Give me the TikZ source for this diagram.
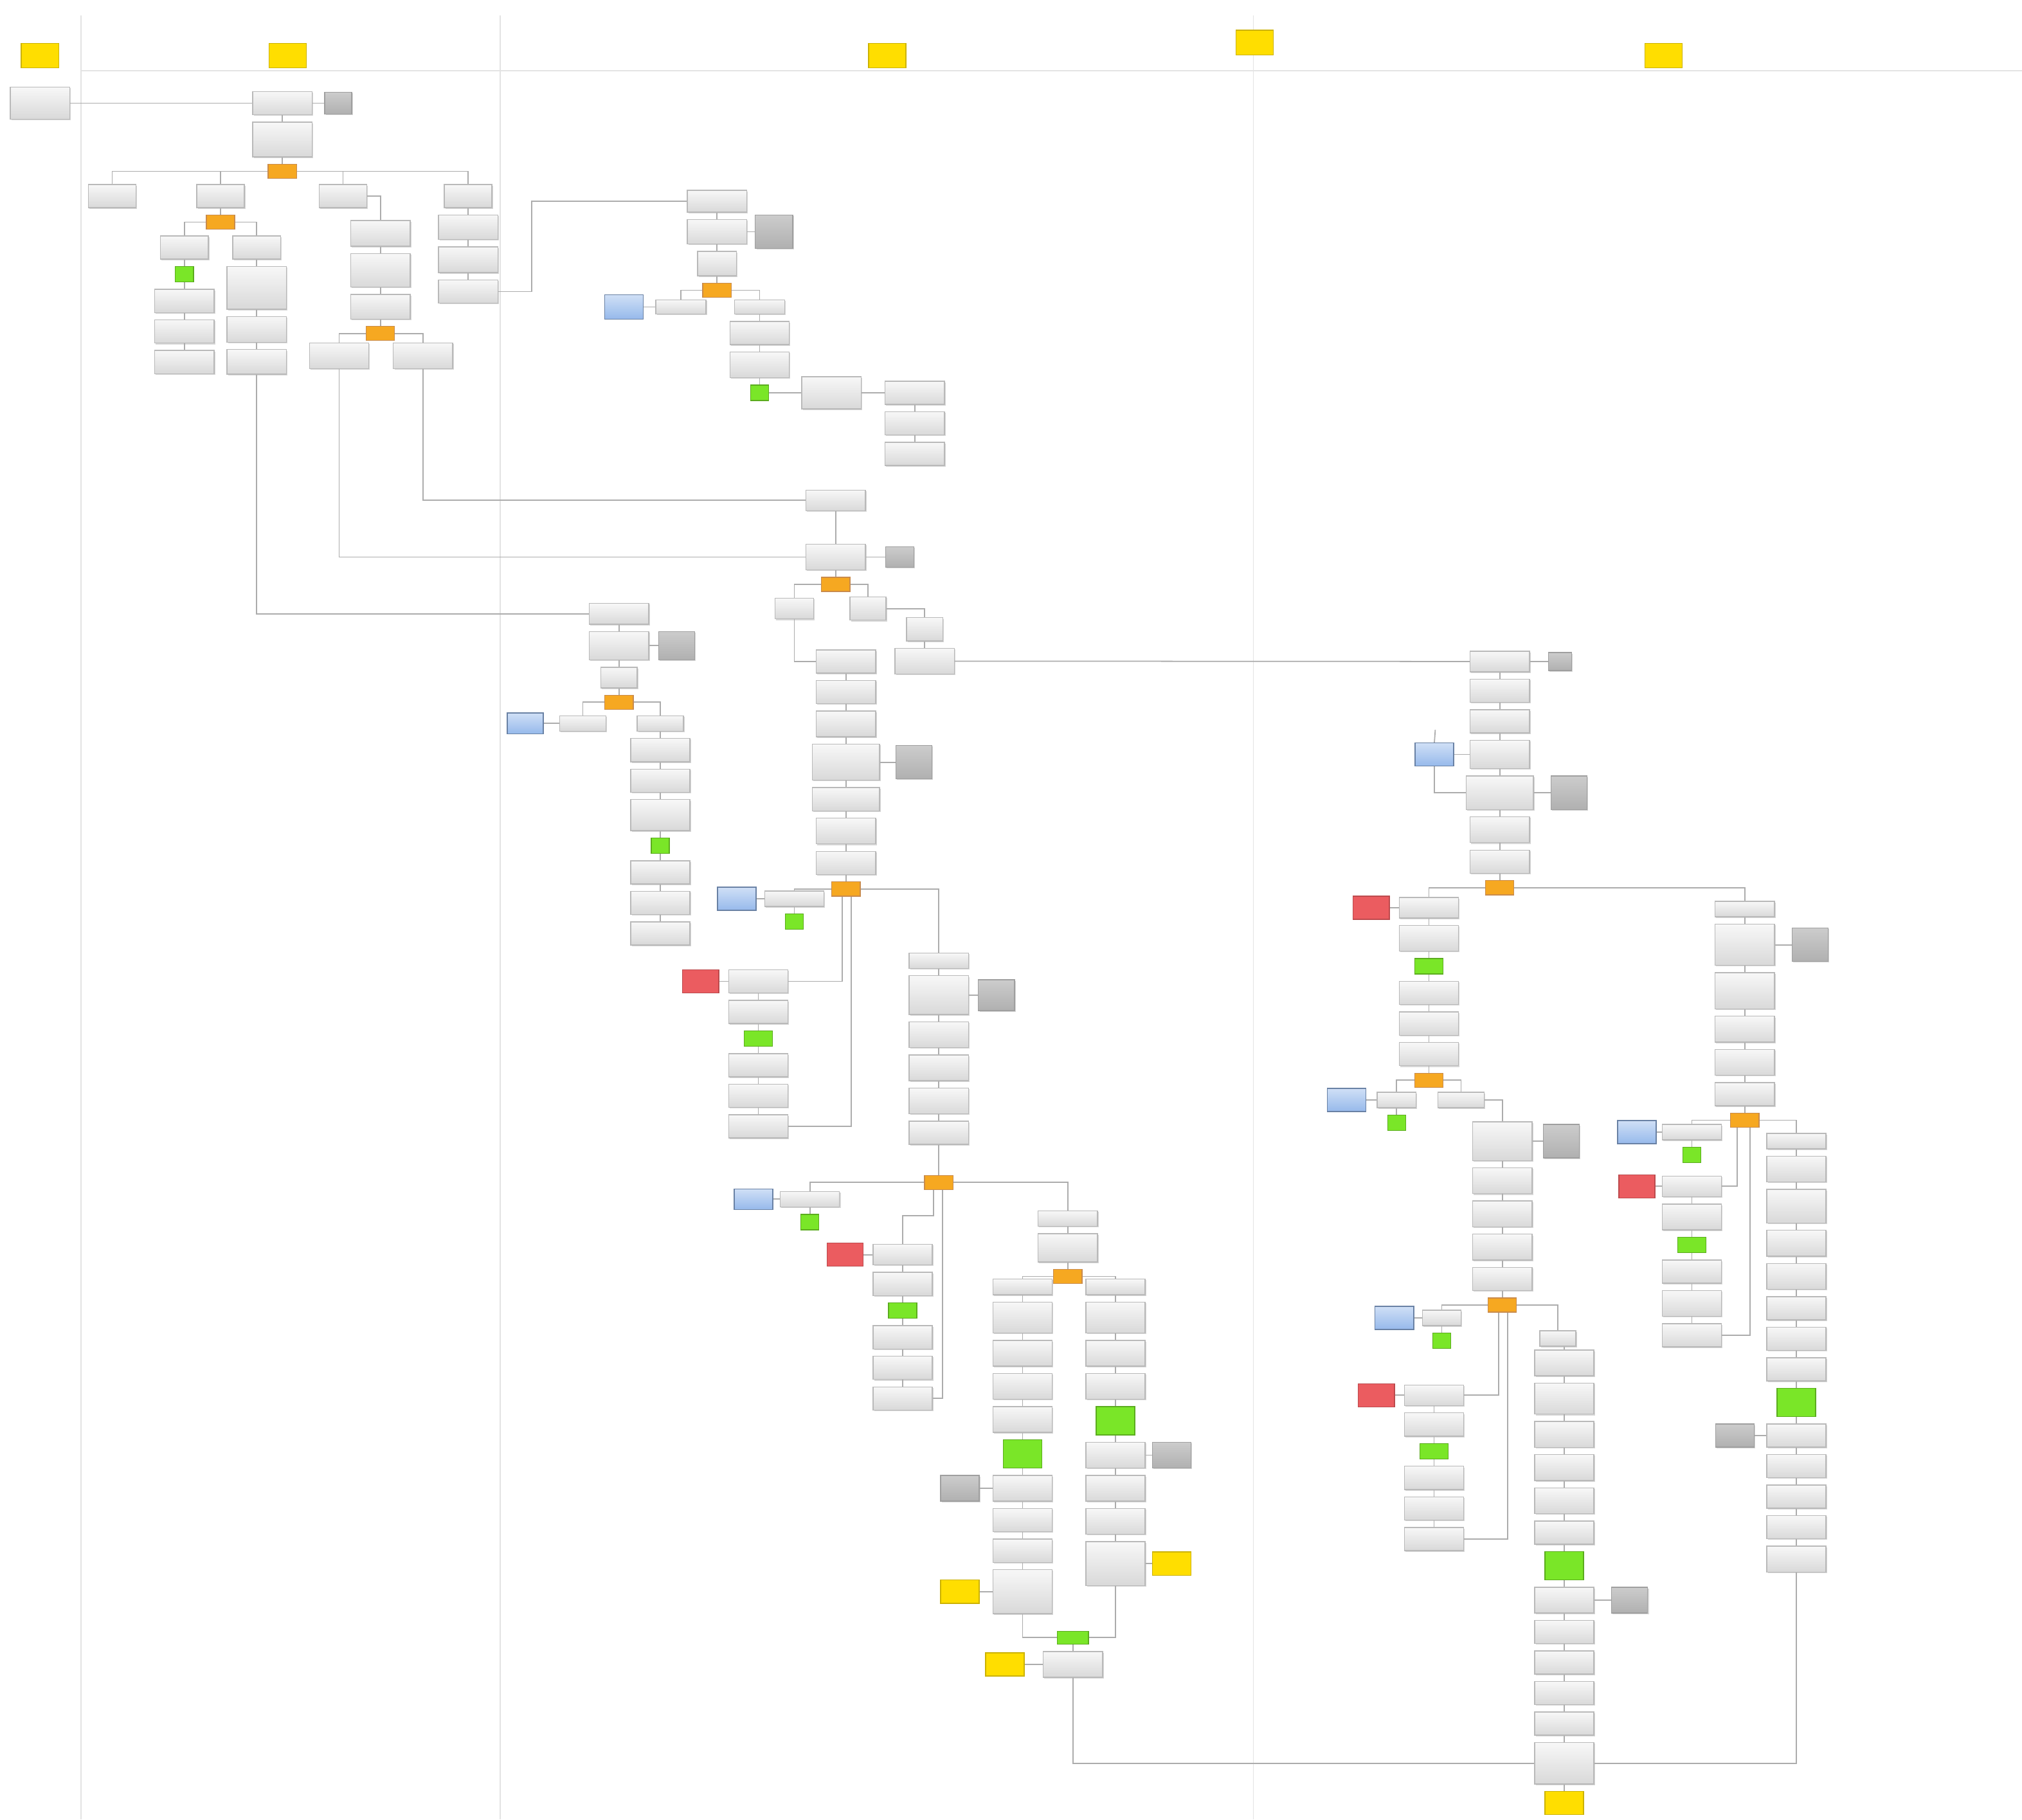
\documentclass[tikz,border=0pt]{standalone}
\usepackage{tikz}
\usetikzlibrary{positioning, shapes.misc, shadows}

\definecolor{gateor}{RGB}{246,168,33}
\definecolor{okgreen}{RGB}{122,230,40}
\definecolor{stopred}{RGB}{235,92,96}
\definecolor{extblue}{RGB}{150,185,235}
\definecolor{tagyel}{RGB}{255,222,0}

\begin{document}
\begin{tikzpicture}[
    x=0.02cm, y=-0.02cm,
    node distance=0.1cm,
    ht/.style={minimum height=#1*0.02cm},
    wd/.style={minimum width=#1*0.02cm},
    shade/.style={drop shadow={shadow xshift=0.5pt, shadow yshift=-0.5pt,
                  fill=gray!70, opacity=0.45}},
    box/.style={shade, draw=gray!55, top color=gray!6, bottom color=gray!30,
                minimum width=0.92cm, minimum height=0.36cm, inner sep=0pt},
    opt/.style={box, minimum width=0.74cm},
    lbl/.style={box, minimum width=0.72cm, minimum height=0.24cm},
    memo/.style={shade, draw=gray!75, top color=gray!40, bottom color=gray!62,
                 minimum width=0.56cm, minimum height=0.5cm, inner sep=0pt},
    gate/.style={chamfered rectangle, chamfered rectangle xsep=2.2pt,
                 draw=orange!70!black!70, fill=gateor,
                 minimum width=0.44cm, minimum height=0.22cm, inner sep=0pt},
    ok/.style={draw=okgreen!75!black, fill=okgreen, minimum width=0.28cm,
               minimum height=0.24cm, inner sep=0pt},
    stop/.style={draw=stopred!80!black, fill=stopred, minimum width=0.56cm,
                 minimum height=0.36cm, inner sep=0pt},
    ext/.style={draw=extblue!70!black, top color=extblue!45,
                bottom color=extblue, minimum width=0.6cm,
                minimum height=0.36cm, inner sep=0pt},
    tag/.style={draw=tagyel!80!black, fill=tagyel, minimum width=0.58cm,
                minimum height=0.38cm, inner sep=0pt},
    lane/.style={draw=gray!22, line width=0.5pt},
    link/.style={draw=gray!65, line width=0.5pt}
  ]
  \useasboundingbox (0,0) rectangle (1568,1411);

  % swimlanes
  \draw[lane] (63,12) -- (63,1411);
  \draw[lane] (388,12) -- (388,1411);
  \draw[lane] (972,12) -- (972,1411);
  \draw[lane] (63,55) -- (1568,55);

  \node[tag] (hd1) at (31,43) {};
  \node[tag] (hd2) at (223,43) {};
  \node[tag] (hd3) at (688,43) {};
  \node[tag] (hd4) at (973,33) {};
  \node[tag] (hd5) at (1290,43) {};

  % lane 1
  \node[box, ht=25] (start) at (31,80) {};

  % lane 2
  \node[box] (a1) at (219,80) {};
  \node[memo, wd=21, ht=17, right=0.18cm of a1] (a1n) {};
  \node[box, ht=27, below=of a1] (a2) {};
  \node[gate, below=of a2] (g1) {};
  \node[opt] (b1) at (87,152) {};
  \node[opt] (b2) at (171,152) {};
  \node[opt] (b3) at (266,152) {};
  \node[opt] (b4) at (363,152) {};
  \node[gate, below=of b2] (g2) {};
  \node[opt] (c1) at (143,192) {};
  \node[opt] (c2) at (199,192) {};
  \node[ok, below=of c1] (c1k) {};
  \node[box, below=of c1k] (c1a) {};
  \node[box, below=of c1a] (c1b) {};
  \node[box, below=of c1b] (c1c) {};
  \node[box, ht=33, below=of c2] (c2a) {};
  \node[box, ht=20, below=of c2a] (c2b) {};
  \node[box, ht=19, below=of c2b] (c2c) {};
  \node[box, ht=20] (d1) at (295,181) {};
  \node[box, ht=26, below=of d1] (d2) {};
  \node[box, ht=19, below=of d2] (d3) {};
  \node[gate, below=of d3] (g3) {};
  \node[box, ht=20] (e1) at (263,276) {};
  \node[box, ht=20] (e2) at (328,276) {};
  \node[box, ht=19, below=of b4] (b4a) {};
  \node[box, ht=20, below=of b4a] (b4b) {};
  \node[box, below=of b4b] (b4c) {};

  % lane 3, top
  \node[box, ht=17] (f1) at (556,156) {};
  \node[box, ht=19, below=of f1] (f2) {};
  \node[memo, wd=29, ht=26, right=0.12cm of f2] (f2n) {};
  \node[box, wd=30, ht=19, below=of f2] (f3) {};
  \node[gate, below=of f3] (g4) {};
  \node[lbl, wd=39, ht=11] (gl) at (528,238) {};
  \node[ext, wd=30, ht=19, left=0.18cm of gl] (glx) {};
  \node[lbl, wd=39, ht=11] (gr) at (589,238) {};
  \node[box, below=of gr] (gr1) {};
  \node[box, ht=20, below=of gr1] (gr2) {};
  \node[ok, below=of gr2] (grk) {};
  \node[box, ht=25, right=0.5cm of grk] (h1) {};
  \node[box, right=0.36cm of h1] (h2) {};
  \node[box, below=of h2] (h3) {};
  \node[box, below=of h3] (h4) {};

  % lane 3, middle
  \node[box, ht=16] (i1) at (648,388) {};
  \node[box, ht=20] (i2) at (648,432) {};
  \node[memo, wd=22, ht=16, right=0.3cm of i2] (i2n) {};
  \node[gate, below=of i2] (g5) {};
  \node[box, wd=30, ht=16] (j1) at (616,472) {};
  \node[box, wd=28] (j2) at (673,472) {};
  \node[box, wd=28] (j3) at (717,488) {};
  \node[box, ht=20, below=of j3] (j4) {};
  \node[box] (k1) at (656,513) {};
  \node[box, below=of k1] (k2) {};
  \node[box, ht=20, below=of k2] (k3) {};
  \node[box, wd=52, ht=28, below=of k3] (k4) {};
  \node[memo, wd=28, ht=26, right=0.24cm of k4] (k4n) {};
  \node[box, wd=52, below=of k4] (k5) {};
  \node[box, ht=20, below=of k5] (k6) {};
  \node[box, below=of k6] (k7) {};
  \node[gate, below=of k7] (g6) {};

  \node[box, ht=16] (n1) at (480,476) {};
  \node[box, ht=22, below=of n1] (n2) {};
  \node[memo, wd=28, ht=22, right=0.14cm of n2] (n2n) {};
  \node[box, wd=28, ht=16, below=of n2] (n3) {};
  \node[gate, below=of n3] (g7) {};
  \node[lbl] (nl) at (452,561) {};
  \node[ext, wd=28, ht=16, left=0.24cm of nl] (nlx) {};
  \node[lbl] (nr) at (512,561) {};
  \node[box, below=of nr] (nr1) {};
  \node[box, below=of nr1] (nr2) {};
  \node[box, ht=24, below=of nr2] (nr3) {};
  \node[ok, below=of nr3] (nrk) {};
  \node[box, below=of nrk] (nr4) {};
  \node[box, below=of nr4] (nr5) {};
  \node[box, below=of nr5] (nr6) {};

  \node[lbl, wd=46] (o1) at (616,697) {};
  \node[ext, wd=30, left=0.12cm of o1] (o1x) {};
  \node[ok, below=of o1] (o1k) {};
  \node[box] (p1) at (588,761) {};
  \node[stop, left=0.14cm of p1] (p1x) {};
  \node[box, below=of p1] (p2) {};
  \node[ok, wd=22, below=of p2] (p2k) {};
  \node[box, below=of p2k] (p3) {};
  \node[box, below=of p3] (p4) {};
  \node[box, below=of p4] (p5) {};

  \node[box, ht=12] (q1) at (728,745) {};
  \node[box, ht=30, below=of q1] (q2) {};
  \node[memo, wd=28, ht=24, right=0.14cm of q2] (q2n) {};
  \node[box, ht=20, below=of q2] (q3) {};
  \node[box, ht=20, below=of q3] (q4) {};
  \node[box, ht=20, below=of q4] (q5) {};
  \node[box, below=of q5] (q6) {};
  \node[gate] (g8) at (728,917) {};

  % lane 3, bottom
  \node[lbl, wd=46] (r1) at (628,930) {};
  \node[ext, wd=30, ht=16, left=0.1cm of r1] (r1x) {};
  \node[ok, below=of r1] (r1k) {};
  \node[box, ht=16] (s1) at (700,973) {};
  \node[stop, left=0.14cm of s1] (s1x) {};
  \node[box, below=of s1] (s2) {};
  \node[ok, wd=22, below=of s2] (s2k) {};
  \node[box, below=of s2k] (s3) {};
  \node[box, below=of s3] (s4) {};
  \node[box, below=of s4] (s5) {};

  \node[box, ht=12] (t1) at (828,945) {};
  \node[box, ht=22, below=of t1] (t2) {};
  \node[gate, below=of t2] (g9) {};

  \node[box, ht=12] (u1) at (793,998) {};
  \node[box, ht=24, below=of u1] (u2) {};
  \node[box, ht=20, below=of u2] (u3) {};
  \node[box, ht=20, below=of u3] (u4) {};
  \node[box, ht=20, below=of u4] (u5) {};
  \node[ok, wd=30, ht=22, below=of u5] (u6) {};
  \node[box, ht=20, below=of u6] (u7) {};
  \node[memo, wd=30, ht=20, left=0.2cm of u7] (u7n) {};
  \node[box, below=of u7] (u8) {};
  \node[box, below=of u8] (u9) {};
  \node[box, ht=34, below=of u9] (u10) {};
  \node[tag, wd=30, ht=18, left=0.2cm of u10] (u10t) {};

  \node[box, ht=12] (v1) at (865,998) {};
  \node[box, ht=24, below=of v1] (v2) {};
  \node[box, ht=20, below=of v2] (v3) {};
  \node[box, ht=20, below=of v3] (v4) {};
  \node[ok, wd=30, ht=22, below=of v4] (v5) {};
  \node[box, ht=20, below=of v5] (v6) {};
  \node[memo, wd=30, ht=20, right=0.1cm of v6] (v6n) {};
  \node[box, ht=20, below=of v6] (v7) {};
  \node[box, ht=20, below=of v7] (v8) {};
  \node[box, ht=34, below=of v8] (v9) {};
  \node[tag, wd=30, ht=18, right=0.1cm of v9] (v9t) {};

  \node[ok, wd=24, ht=10] (mrg) at (832,1270) {};
  \node[box, ht=20, below=of mrg] (w1) {};
  \node[tag, wd=30, ht=18, left=0.28cm of w1] (w1t) {};

  % lane 4
  \node[box, ht=16] (l1) at (1163,513) {};
  \node[memo, wd=18, ht=14, right=0.28cm of l1] (l1n) {};
  \node[box, below=of l1] (l2) {};
  \node[box, below=of l2] (l3) {};
  \node[box, ht=22, below=of l3] (l4) {};
  \node[ext, wd=30, ht=18, left=0.24cm of l4] (l4x) {};
  \node[box, wd=52, ht=26, below=of l4] (l5) {};
  \node[memo, wd=28, ht=26, right=0.26cm of l5] (l5n) {};
  \node[box, ht=20, below=of l5] (l6) {};
  \node[box, below=of l6] (l7) {};
  \node[gate, below=of l7] (g10) {};
  \coordinate (l4up) at (1113,566);

  \node[box, ht=16] (m1) at (1108,704) {};
  \node[stop, left=0.14cm of m1] (m1x) {};
  \node[box, ht=20, below=of m1] (m2) {};
  \node[ok, wd=22, below=of m2] (m2k) {};
  \node[box, below=of m2k] (m3) {};
  \node[box, below=of m3] (m4) {};
  \node[box, below=of m4] (m5) {};
  \node[gate, below=of m5] (g11) {};
  \node[lbl, wd=30] (z1) at (1083,853) {};
  \node[ext, wd=30, ht=18, left=0.16cm of z1] (z1x) {};
  \node[ok, below=of z1] (z1k) {};
  \node[lbl] (z2) at (1133,853) {};

  \node[box, ht=30] (aa1) at (1165,885) {};
  \node[memo, wd=28, ht=26, right=0.16cm of aa1] (aa1n) {};
  \node[box, ht=20, below=of aa1] (aa2) {};
  \node[box, ht=20, below=of aa2] (aa3) {};
  \node[box, ht=20, below=of aa3] (aa4) {};
  \node[box, below=of aa4] (aa5) {};
  \node[gate, below=of aa5] (g12) {};
  \node[lbl, wd=30] (ab1) at (1118,1022) {};
  \node[ext, wd=30, ht=18, left=0.12cm of ab1] (ab1x) {};
  \node[ok, below=of ab1] (ab1k) {};
  \node[box, ht=16] (ac1) at (1112,1082) {};
  \node[stop, left=0.14cm of ac1] (ac1x) {};
  \node[box, below=of ac1] (ac2) {};
  \node[ok, wd=22, below=of ac2] (ac2k) {};
  \node[box, below=of ac2k] (ac3) {};
  \node[box, below=of ac3] (ac4) {};
  \node[box, below=of ac4] (ac5) {};

  \node[box, wd=28, ht=12] (ad1) at (1208,1038) {};
  \node[box, ht=20] (ad2) at (1213,1057) {};
  \node[box, ht=24, below=of ad2] (ad3) {};
  \node[box, ht=20, below=of ad3] (ad4) {};
  \node[box, ht=20, below=of ad4] (ad5) {};
  \node[box, ht=20, below=of ad5] (ad6) {};
  \node[box, below=of ad6] (ad7) {};
  \node[ok, wd=30, ht=22, below=of ad7] (ad8k) {};
  \node[box, ht=20, below=of ad8k] (ad9) {};
  \node[memo, wd=28, ht=20, right=0.26cm of ad9] (ad9n) {};
  \node[box, below=of ad9] (ad10) {};
  \node[box, below=of ad10] (ad11) {};
  \node[box, below=of ad11] (ad12) {};
  \node[box, below=of ad12] (ad13) {};
  \node[box, ht=32, below=of ad13] (fin) {};
  \node[tag, wd=30, ht=18, below=of fin] (fint) {};

  \node[box, ht=12] (y1) at (1353,705) {};
  \node[box, ht=32, below=of y1] (y2) {};
  \node[memo, wd=28, ht=26, right=0.26cm of y2] (y2n) {};
  \node[box, ht=28, below=of y2] (y3) {};
  \node[box, ht=20, below=of y3] (y4) {};
  \node[box, ht=20, below=of y4] (y5) {};
  \node[box, below=of y5] (y6) {};
  \node[gate, below=of y6] (g13) {};
  \node[lbl, wd=46] (z3) at (1312,878) {};
  \node[ext, wd=30, ht=18, left=0.08cm of z3] (z3x) {};
  \node[ok, below=of z3] (z3k) {};
  \node[box, ht=16] (ae1) at (1312,920) {};
  \node[stop, left=0.1cm of ae1] (ae1x) {};
  \node[box, ht=20, below=of ae1] (ae2) {};
  \node[ok, wd=22, below=of ae2] (ae2k) {};
  \node[box, below=of ae2k] (ae3) {};
  \node[box, ht=20, below=of ae3] (ae4) {};
  \node[box, below=of ae4] (ae5) {};

  \node[box, ht=12] (af1) at (1393,885) {};
  \node[box, ht=20, below=of af1] (af2) {};
  \node[box, ht=26, below=of af2] (af3) {};
  \node[box, ht=20, below=of af3] (af4) {};
  \node[box, ht=20, below=of af4] (af5) {};
  \node[box, below=of af5] (af6) {};
  \node[box, below=of af6] (af7) {};
  \node[box, below=of af7] (af8) {};
  \node[ok, wd=30, ht=22, below=of af8] (af9k) {};
  \node[box, below=of af9k] (af10) {};
  \node[memo, wd=30, ht=18, left=0.18cm of af10] (af10n) {};
  \node[box, below=of af10] (af11) {};
  \node[box, below=of af11] (af12) {};
  \node[box, below=of af12] (af13) {};
  \node[box, ht=20, below=of af13] (af14) {};

  % connectors, lanes 1-2
  \draw[link] (start) -- (a1);
  \draw[link] (a1) -- (a1n);
  \draw[link] (a1) -- (a2);
  \draw[link] (a2) -- (g1);
  \draw[link] (g1.west) -| (b1.north);
  \draw[link] (g1.west) -| (b2.north);
  \draw[link] (g1.east) -| (b3.north);
  \draw[link] (g1.east) -| (b4.north);
  \draw[link] (b2) -- (g2);
  \draw[link] (g2.west) -| (c1.north);
  \draw[link] (g2.east) -| (c2.north);
  \draw[link] (c1) -- (c1k) -- (c1a) -- (c1b) -- (c1c);
  \draw[link] (c2) -- (c2a) -- (c2b) -- (c2c);
  \draw[link] (c2c) |- (n1);
  \draw[link] (b3.east) -| (d1.north);
  \draw[link] (d1) -- (d2) -- (d3) -- (g3);
  \draw[link] (g3.west) -| (e1.north);
  \draw[link] (g3.east) -| (e2.north);
  \draw[link] (e1) |- (i2);
  \draw[link] (e2) |- (i1);
  \draw[link] (b4) -- (b4a) -- (b4b) -- (b4c);
  \draw[link] (b4c.east) -- ++(26,0) |- (f1.west);

  % connectors, lane 3
  \draw[link] (f1) -- (f2) -- (f3) -- (g4);
  \draw[link] (f2) -- (f2n);
  \draw[link] (g4.west) -| (gl.north);
  \draw[link] (g4.east) -| (gr.north);
  \draw[link] (glx) -- (gl);
  \draw[link] (gr) -- (gr1) -- (gr2) -- (grk);
  \draw[link] (grk) -- (h1) -- (h2);
  \draw[link] (h2) -- (h3) -- (h4);

  \draw[link] (i1) -- (i2) -- (g5);
  \draw[link] (i2) -- (i2n);
  \draw[link] (g5.west) -| (j1.north);
  \draw[link] (g5.east) -| (j2.north);
  \draw[link] (j1) |- (k1);
  \draw[link] (j2.east) -| (j3.north);
  \draw[link] (j3) -- (j4);
  \draw[link] (j4) -- (l1);
  \draw[link] (k1) -- (k2) -- (k3) -- (k4) -- (k5) -- (k6) -- (k7) -- (g6);
  \draw[link] (k4) -- (k4n);

  \draw[link] (n1) -- (n2) -- (n3) -- (g7);
  \draw[link] (n2) -- (n2n);
  \draw[link] (g7.west) -| (nl.north);
  \draw[link] (g7.east) -| (nr.north);
  \draw[link] (nlx) -- (nl);
  \draw[link] (nr) -- (nr1) -- (nr2) -- (nr3) -- (nrk) -- (nr4) -- (nr5) -- (nr6);

  \draw[link] (g6.west) -| (o1.north);
  \draw[link] (o1x) -- (o1);
  \draw[link] (o1) -- (o1k);
  \draw[link] ([xshift=-0.06cm]g6.south) |- (p1.east);
  \draw[link] (p1x) -- (p1);
  \draw[link] (p1) -- (p2) -- (p2k) -- (p3) -- (p4) -- (p5);
  \draw[link] (p5.east) -| ([xshift=0.08cm]g6.south);
  \draw[link] (g6.east) -| (q1.north);
  \draw[link] (q1) -- (q2) -- (q3) -- (q4) -- (q5) -- (q6) -- (g8);
  \draw[link] (q2) -- (q2n);

  \draw[link] (g8.west) -| (r1.north);
  \draw[link] (r1x) -- (r1);
  \draw[link] (r1) -- (r1k);
  \draw[link] ([xshift=-0.08cm]g8.south) -- ++(0,20) -| (s1.north);
  \draw[link] (s1x) -- (s1);
  \draw[link] (s1) -- (s2) -- (s2k) -- (s3) -- (s4) -- (s5);
  \draw[link] (s5.east) -| ([xshift=0.06cm]g8.south);
  \draw[link] (g8.east) -| (t1.north);
  \draw[link] (t1) -- (t2) -- (g9);
  \draw[link] (g9.west) -| (u1.north);
  \draw[link] (g9.east) -| (v1.north);
  \draw[link] (u1) -- (u2) -- (u3) -- (u4) -- (u5) -- (u6) -- (u7) -- (u8)
    -- (u9) -- (u10);
  \draw[link] (u7n) -- (u7);
  \draw[link] (u10t) -- (u10);
  \draw[link] (v1) -- (v2) -- (v3) -- (v4) -- (v5) -- (v6) -- (v7) -- (v8)
    -- (v9);
  \draw[link] (v6) -- (v6n);
  \draw[link] (v9) -- (v9t);
  \draw[link] (u10) |- (mrg);
  \draw[link] (v9) |- (mrg);
  \draw[link] (mrg) -- (w1);
  \draw[link] (w1t) -- (w1);
  \draw[link] (w1) |- (fin);

  % connectors, lane 4
  \draw[link] (l1) -- (l1n);
  \draw[link] (l1) -- (l2) -- (l3) -- (l4) -- (l5) -- (l6) -- (l7) -- (g10);
  \draw[link] (l4x) -- (l4);
  \draw[link] (l4up) -- (l4x.north);
  \draw[link] (l4x.south) |- (l5.west);
  \draw[link] (l5) -- (l5n);
  \draw[link] (g10.west) -| (m1.north);
  \draw[link] (g10.east) -| (y1.north);

  \draw[link] (m1x) -- (m1);
  \draw[link] (m1) -- (m2) -- (m2k) -- (m3) -- (m4) -- (m5) -- (g11);
  \draw[link] (g11.west) -| (z1.north);
  \draw[link] (z1x) -- (z1);
  \draw[link] (z1) -- (z1k);
  \draw[link] (g11.east) -| (z2.north);
  \draw[link] (z2.east) -| (aa1.north);
  \draw[link] (aa1) -- (aa1n);
  \draw[link] (aa1) -- (aa2) -- (aa3) -- (aa4) -- (aa5) -- (g12);
  \draw[link] (g12.west) -| (ab1.north);
  \draw[link] (ab1x) -- (ab1);
  \draw[link] (ab1) -- (ab1k);
  \draw[link] ([xshift=-0.06cm]g12.south) |- (ac1.east);
  \draw[link] (ac1x) -- (ac1);
  \draw[link] (ac1) -- (ac2) -- (ac2k) -- (ac3) -- (ac4) -- (ac5);
  \draw[link] (ac5.east) -| ([xshift=0.08cm]g12.south);
  \draw[link] (g12.east) -| (ad1.north);
  \draw[link] (ad1.south -| ad2.north) -- (ad2.north);
  \draw[link] (ad2) -- (ad3) -- (ad4) -- (ad5) -- (ad6) -- (ad7) -- (ad8k)
    -- (ad9) -- (ad10) -- (ad11) -- (ad12) -- (ad13) -- (fin) -- (fint);
  \draw[link] (ad9) -- (ad9n);

  \draw[link] (y1) -- (y2) -- (y3) -- (y4) -- (y5) -- (y6) -- (g13);
  \draw[link] (y2) -- (y2n);
  \draw[link] (g13.west) -| (z3.north);
  \draw[link] (z3x) -- (z3);
  \draw[link] (z3) -- (z3k);
  \draw[link] ([xshift=-0.12cm]g13.south) |- (ae1.east);
  \draw[link] (ae1x) -- (ae1);
  \draw[link] (ae1) -- (ae2) -- (ae2k) -- (ae3) -- (ae4) -- (ae5);
  \draw[link] (ae5.east) -| ([xshift=0.08cm]g13.south);
  \draw[link] (g13.east) -| (af1.north);
  \draw[link] (af1) -- (af2) -- (af3) -- (af4) -- (af5) -- (af6) -- (af7)
    -- (af8) -- (af9k) -- (af10) -- (af11) -- (af12) -- (af13) -- (af14);
  \draw[link] (af10n) -- (af10);
  \draw[link] (af14) |- (fin);
\end{tikzpicture}
\end{document}
